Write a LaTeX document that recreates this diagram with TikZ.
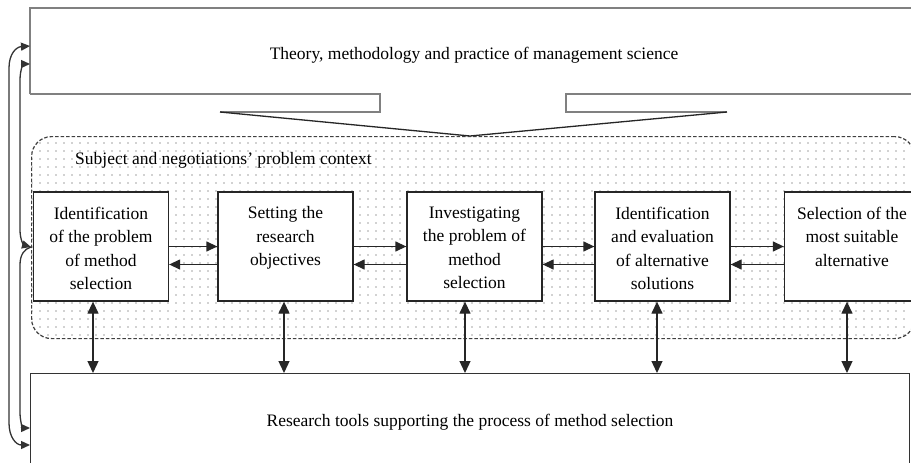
\documentclass[tikz,border=0pt]{standalone}
\usepackage{fontspec}
\setmainfont{Liberation Serif}
\usetikzlibrary{arrows.meta,patterns.meta}
\tikzset{
  every node/.style={font=\fontsize{17.5}{23.5}\selectfont},
  topline/.style={draw=black!50, line width=1.5pt},
  pointerline/.style={draw=black!85, line width=1.3pt},
  ctxregion/.style={draw=black!75, dash pattern=on 3.5pt off 2pt, line width=1.2pt, rounded corners=20pt,
     pattern={Dots[distance=8pt,radius=0.7pt]}, pattern color=black!75,
     minimum width=883pt, minimum height=202pt, anchor=north west, inner sep=0},
  procbox/.style={draw=black!85, line width=1.3pt, fill=white, minimum width=135pt, minimum height=109pt, inner sep=0},
  boxtext/.style={align=center, anchor=north, inner sep=0},
  toolsbox/.style={draw=black!80, line width=1.3pt, fill=white, minimum width=879pt, minimum height=110pt, anchor=north west, inner sep=0},
  harrow/.style={-{Triangle[length=11pt,width=10pt]}, line width=1.3pt, draw=black!85, fill=black!85},
  varrow/.style={{Triangle[length=12pt,width=11pt]}-{Triangle[length=12pt,width=11pt]}, line width=1.3pt, draw=black!85, fill=black!85},
  sideline/.style={line width=1.3pt, draw=black!80},
  sidetips/.style={{Triangle[length=9pt,width=8pt]}-{Triangle[length=9pt,width=8pt]}},
  sidetipstart/.style={{Triangle[length=9pt,width=8pt]}-}
}
\begin{document}
\begin{tikzpicture}[x=1pt,y=-1pt]
\fill[white] (0,0) rectangle (911,463);
\clip (0,0) rectangle (911,463);

% top callout box
\draw[topline] (30,94) -- (30,8) -- (930,8);
\draw[topline] (30,94) -- (380,94) -- (380,112) -- (220,112);
\draw[topline] (930,94) -- (566,94) -- (566,112) -- (727,112);
\draw[pointerline] (220,112) -- (470,136) -- (727,112);
\node (theory) at (474,55) {Theory, methodology and practice of management science};

% context region
\node[ctxregion] (ctx) at (31,136) {};
\node[anchor=west, inner sep=0] (ctxlabel) at (75,160) {Subject and negotiations’ problem context};

% process boxes
\node[procbox] (b1) at (101,246.5) {};
\node[procbox] (b2) at (285.5,246.5) {};
\node[procbox] (b3) at (474.5,246.5) {};
\node[procbox] (b4) at (662.5,246.5) {};
\node[procbox] (b5) at (852,246.5) {};

\node[boxtext] (t1) at (101,206.5) {Identification\\of the problem\\of method\\selection};
\node[boxtext] (t2) at (285.5,206.5) {Setting the\\research\\objectives};
\node[boxtext] (t3) at (474.5,206.5) {Investigating\\the problem of\\method\\selection};
\node[boxtext] (t4) at (662.5,206.5) {Identification\\and evaluation\\of alternative\\solutions};
\node[boxtext] (t5) at (852,206.5) {Selection of the\\most suitable\\alternative};

% horizontal arrows
\foreach \a/\b in {b1/b2,b2/b3,b3/b4,b4/b5}{
  \draw[harrow] (\a.east) -- (\b.west);
  \draw[harrow] ([yshift=-18pt]\b.west) -- ([yshift=-18pt]\a.east);
}

% tools box
\node[toolsbox] (tools) at (30,373) {};
\node (toolstext) at (470,422) {Research tools supporting the process of method selection};

% vertical arrows
\draw[varrow] ([xshift=-8pt]b1.south) -- ([xshift=-8pt]b1.south |- tools.north);
\draw[varrow] ([xshift=-1.5pt]b2.south) -- ([xshift=-1.5pt]b2.south |- tools.north);
\draw[varrow] ([xshift=-9.5pt]b3.south) -- ([xshift=-9.5pt]b3.south |- tools.north);
\draw[varrow] ([xshift=-5.5pt]b4.south) -- ([xshift=-5.5pt]b4.south |- tools.north);
\draw[varrow] ([xshift=-5pt]b5.south) -- ([xshift=-5pt]b5.south |- tools.north);

% left side feedback arrows
\coordinate (ta) at (30,46);
\coordinate (tb) at (30,64);
\coordinate (ma) at (31,247);
\coordinate (ba) at (30,428);
\coordinate (bb) at (30,445);
\draw[sideline,sidetips] (ta) .. controls (16,47) and (9,54) .. (9,68) -- (9,423) .. controls (9,437) and (16,445) .. (bb);
\draw[sideline,sidetips] (tb) .. controls (24,64) and (20,69) .. (20,80) -- (20,230) .. controls (20,240) and (24,245) .. (ma);
\draw[sideline,sidetipstart] (ba) .. controls (23,428) and (20,422) .. (20,412) -- (20,265) .. controls (20,255) and (24,249) .. (ma);
\end{tikzpicture}
\end{document}
